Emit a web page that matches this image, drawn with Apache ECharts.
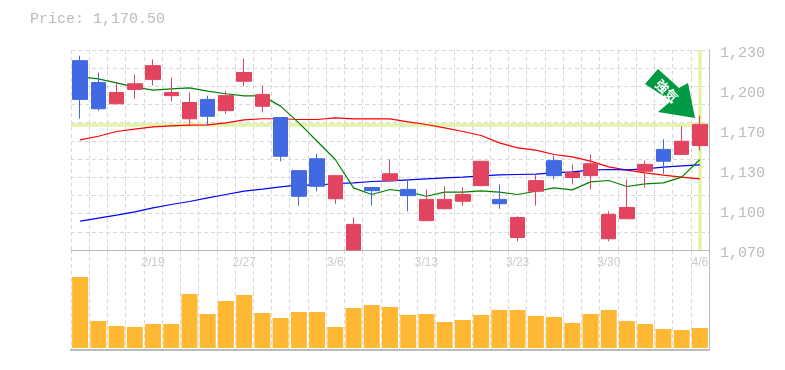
<!DOCTYPE html>
<html>
<head>
<meta charset="utf-8">
<style>html,body{margin:0;padding:0;background:#fff}#c{width:785px;height:370px}</style>
<script src="https://cdn.jsdelivr.net/npm/echarts@6/dist/echarts.min.js"></script>
</head>
<body>
<div id="c"></div>
<script>
const dates = ['2/13','2/16','2/17','2/18','2/19','2/20','2/24','2/25','2/26','2/27','3/2','3/3','3/4','3/5','3/6','3/9','3/10','3/11','3/12','3/13','3/16','3/17','3/18','3/19','3/23','3/24','3/25','3/26','3/27','3/30','3/31','4/1','4/2','4/3','4/6'];
const opens = [1221.5,1204,1187,1198.5,1206.5,1193.5,1175,1190.5,1181.5,1205,1185,1176,1133.5,1143,1111,1070,1120,1125.5,1118.5,1093.5,1103,1109,1121.5,1110.5,1080,1117,1141.5,1128,1129.5,1079,1095,1133,1150.5,1146.5,1153.5];
const closes = [1190.5,1183,1196,1203,1217.5,1196,1188,1177,1193.5,1212,1194.5,1145,1113,1121,1129.5,1090.5,1117.5,1131,1113.5,1110.5,1110.5,1114.5,1141,1107,1096,1125.5,1129.5,1132,1139,1098.5,1104,1138.5,1141,1157,1170.5];
const lows = [1175,1181.5,1186.5,1191,1201.5,1189,1169,1169.5,1179,1201,1180,1141,1105.5,1117,1107,1070,1105.5,1125,1101,1093.5,1102.5,1105.5,1121,1103,1077,1105.5,1126.5,1122.5,1118.5,1077,1095,1120,1131,1146.5,1149.5];
const highs = [1225.5,1212,1204,1210.5,1222.5,1208,1196,1193.5,1197,1223,1201.5,1176,1133.5,1147,1129.5,1096,1120,1142.5,1126.5,1118.5,1121,1120,1141,1122.5,1097,1130.5,1145.5,1138.5,1146.5,1101,1126.5,1141.5,1158.5,1169,1177.5];
const maShort = [1208.5,1206.9,1203.7,1200.3,1197.9,1198.9,1199.7,1197.1,1195,1193.3,1193.3,1185.1,1171.7,1157,1142.4,1119.7,1114.4,1118.4,1116.5,1113,1116.3,1116.3,1117.3,1116.3,1114.4,1117,1119.7,1118.1,1124.5,1125.6,1120.8,1122.9,1123.7,1128.3,1142.4];
const maMid = [1158.1,1161,1164.8,1166.7,1168.5,1169.3,1169.9,1170.1,1171.7,1174.1,1175,1175,1174.4,1174.4,1175.7,1174.9,1174.9,1174.9,1172.5,1170.4,1167.7,1164.8,1161.6,1155.7,1151.7,1149.9,1146.4,1144.5,1141.1,1136.5,1133.9,1131.7,1129.9,1128.3,1126.9];
const maLong = [1093.1,1095.5,1097.9,1100.5,1103.7,1106.4,1108.8,1111.7,1114.4,1117.1,1118.7,1120.5,1122.1,1121.8,1123.2,1123.7,1124.8,1125.3,1126.1,1126.9,1127.7,1128.3,1129.3,1130.1,1130.4,1130.7,1131.7,1132.5,1133.9,1134.4,1134.1,1134.9,1136.3,1137.3,1138.1];
const volumes = [71,27,22,21,24,24,54,34,47,53,35,30,36,36,21,40,43,41,33,34,26,28,33,38,38,32,31,25,34,38,27,24,19,18,20];
const priceTicks = ['1,070','1,100','1,130','1,170','1,200','1,230'];
const lastPrice = 1170.5;
const badge = '強気';

const GREY = '#bbbbbb';
const mono = '"Liberation Mono","DejaVu Sans Mono",monospace';
const dash = {show:true, interval:0, lineStyle:{color:'#d8d8d8', type:[4,3], width:1}};
const lineSeries = (name, data, color) => ({
  name, type:'line', data, xAxisIndex:0, yAxisIndex:0, showSymbol:false, symbol:'none',
  smooth:false, z:3, silent:true, lineStyle:{color, width:1.2}
});

const chart = echarts.init(document.getElementById('c'), null, {renderer:'canvas'});
chart.setOption({
  animation:false,
  backgroundColor:'#ffffff',
  title:{text:'Price: ' + lastPrice.toLocaleString('en-US',{minimumFractionDigits:2}), left:25, top:7,
    textStyle:{fontFamily:mono, fontSize:15, fontWeight:'normal', color:GREY}},
  grid:[
    {left:71, width:638, top:50, height:200},
    {left:71, width:638, top:250, height:100},
    {left:71, width:638, top:53, height:200}
  ],
  xAxis:[
    {type:'category', gridIndex:0, data:dates, boundaryGap:true,
     axisLine:{lineStyle:{color:GREY, width:1}}, axisTick:{show:false}, splitLine:dash,
     axisLabel:{interval:(i)=>i%5===4, color:'#cccccc', fontSize:12, margin:7, fontFamily:'"Liberation Sans",sans-serif'}},
    {type:'category', gridIndex:1, data:dates, boundaryGap:true,
     axisLine:{onZero:false, lineStyle:{color:GREY, width:2}}, axisTick:{show:false}, splitLine:dash, axisLabel:{show:false}},
    {type:'category', gridIndex:2, data:dates, show:false}
  ],
  yAxis:[
    {type:'value', gridIndex:0, min:1070, max:1230, position:'right', show:false, scale:true, splitLine:{show:false}},
    {type:'value', gridIndex:2, min:0, max:5, interval:1, position:'right',
     axisLine:{show:false}, axisTick:{show:false}, splitLine:{show:false},
     axisLabel:{formatter:(v)=>priceTicks[v], color:GREY, fontSize:15, margin:11, fontFamily:mono}},
    {type:'value', gridIndex:0, min:0, max:11, interval:1, position:'right', axisLine:{show:true, lineStyle:{color:GREY, width:1}}, axisTick:{show:false},
     axisLabel:{show:false}, splitLine:{show:true, lineStyle:{color:'#d8d8d8', type:[4,3], width:1}}},
    {type:'value', gridIndex:1, min:-2, max:98, position:'right', axisLabel:{show:false}, axisTick:{show:false},
     axisLine:{show:true, onZero:false, lineStyle:{color:GREY, width:1}}, splitLine:{show:false}}
  ],
  series:[
    {type:'line', name:'highlight', data:[], xAxisIndex:0, yAxisIndex:0, z:2, silent:true,
     markLine:{silent:true, z:2, symbol:'none', label:{show:false}, animation:false,
       lineStyle:{color:'#e3f4a6', width:3.5, type:'solid'},
       data:[{yAxis:lastPrice},{xAxis:dates[dates.length-1]}]}},
    lineSeries('maMid', maMid, '#ff0000'),
    lineSeries('maLong', maLong, '#0000ff'),
    lineSeries('maShort', maShort, '#008000'),
    {type:'candlestick', name:'price', xAxisIndex:0, yAxisIndex:0, z:4, barWidth:15, silent:true,
     data:dates.map((d,i)=>[opens[i],closes[i],lows[i],highs[i]]),
     itemStyle:{color:'#e2445f', color0:'#4169e1', borderColor:'#e2445f', borderColor0:'#4169e1', borderWidth:1}},
    {type:'bar', name:'volume', xAxisIndex:1, yAxisIndex:3, barWidth:16, silent:true, data:volumes,
     itemStyle:{color:'#ffb833'}}
  ],
  graphic:[
    {type:'polygon', z:10, silent:true,
     shape:{points:[[658,69],[679,88],[688,83],[695,118],[658,112],[671,101],[645,84]]},
     style:{fill:'#009944'}},
    {type:'text', z:11, silent:true, x:667, y:91, rotation:-Math.PI/4, originX:0, originY:0,
     style:{text:badge, x:0, y:0, fill:'#ffffff', fontSize:13, fontWeight:'bold', align:'center', verticalAlign:'middle',
       fontFamily:'"Noto Sans CJK JP",sans-serif'}}
  ]
});
</script>
</body>
</html>
